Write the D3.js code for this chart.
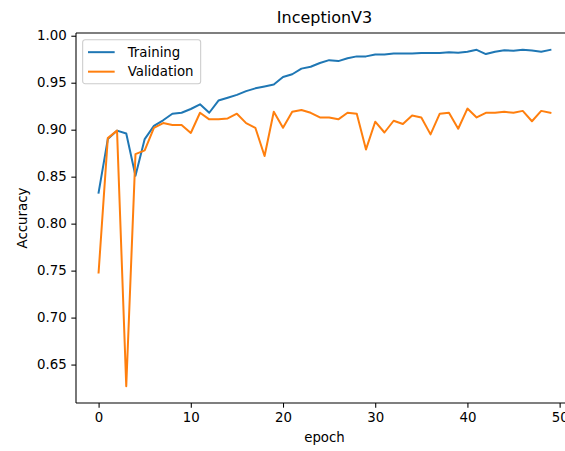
<!DOCTYPE html>
<html>
<head>
<meta charset="utf-8">
<script src="https://cdn.jsdelivr.net/npm/d3@7"></script>
<style>
  html, body { margin: 0; padding: 0; background: #fff; }
  svg { display: block; font-family: "DejaVu Sans", sans-serif; }
</style>
</head>
<body>
<svg id="chart" width="565" height="451"></svg>
<script>
// Accuracy per epoch for InceptionV3
const epochs = d3.range(0, 50);
const training = [0.833, 0.890, 0.899, 0.896, 0.851, 0.890, 0.904, 0.910, 0.917, 0.918,
  0.922, 0.927, 0.918, 0.931, 0.934, 0.937, 0.941, 0.944, 0.946, 0.948,
  0.956, 0.959, 0.965, 0.967, 0.971, 0.974, 0.973, 0.976, 0.978, 0.978,
  0.980, 0.980, 0.981, 0.981, 0.981, 0.9815, 0.9815, 0.9815, 0.9825, 0.982,
  0.983, 0.985, 0.9805, 0.983, 0.9845, 0.984, 0.985, 0.9843, 0.983, 0.985];
const validation = [0.748, 0.891, 0.899, 0.627, 0.874, 0.878, 0.902, 0.907, 0.905, 0.905,
  0.8965, 0.918, 0.911, 0.911, 0.912, 0.917, 0.907, 0.902, 0.872, 0.919,
  0.902, 0.919, 0.921, 0.918, 0.913, 0.913, 0.911, 0.918, 0.917, 0.879,
  0.9085, 0.897, 0.9095, 0.906, 0.915, 0.913, 0.895, 0.917, 0.918, 0.901,
  0.9225, 0.913, 0.918, 0.918, 0.919, 0.918, 0.920, 0.909, 0.920, 0.918];
const xTicks = [0, 10, 20, 30, 40, 50];
const yTicks = [0.65, 0.70, 0.75, 0.80, 0.85, 0.90, 0.95, 1.00];
const seriesNames = ["Training", "Validation"];
const seriesColors = ["#1f77b4", "#ff7f0e"];

const svg = d3.select("#chart");
const plot = { left: 76, right: 573, top: 33, bottom: 403 };

// axis limits with 5% padding around the data
const xMin = d3.min(epochs), xMax = d3.max(epochs);
const xPad = (xMax - xMin) * 0.05;
const allY = training.concat(validation);
const yMin = d3.min(allY), yMax = d3.max(allY);
const yPad = (yMax - yMin) * 0.05;

const x = d3.scaleLinear().domain([xMin - xPad, xMax + xPad]).range([plot.left, plot.right]);
const y = d3.scaleLinear().domain([yMin - yPad, yMax + yPad]).range([plot.bottom, plot.top]);

const fontSize = 13.33;

// lines
const line = d3.line().x((d, i) => x(epochs[i])).y(d => y(d));
[training, validation].forEach((vals, k) => {
  svg.append("path")
    .datum(vals)
    .attr("d", line)
    .attr("fill", "none")
    .attr("stroke", seriesColors[k])
    .attr("stroke-width", 2)
    .attr("stroke-linejoin", "round")
    .attr("stroke-linecap", "square");
});

// axes
const xAxis = d3.axisBottom(x).tickValues(xTicks).tickFormat(d3.format("d"))
  .tickSizeInner(4.67).tickSizeOuter(0).tickPadding(4.67);
const yAxis = d3.axisLeft(y).tickValues(yTicks).tickFormat(d3.format(".2f"))
  .tickSizeInner(4.67).tickSizeOuter(0).tickPadding(4.67);

const gx = svg.append("g").attr("transform", `translate(0,${plot.bottom})`).call(xAxis);
const gy = svg.append("g").attr("transform", `translate(${plot.left},0)`).call(yAxis);
[gx, gy].forEach(g => {
  g.select(".domain").remove();
  g.selectAll(".tick line").attr("stroke", "#000").attr("stroke-width", 1.07);
  g.selectAll(".tick text").attr("fill", "#000")
    .style("font-size", fontSize + "px").style("font-family", "DejaVu Sans");
});

// spines
const spine = svg.append("g").attr("stroke", "#000").attr("stroke-width", 1.07).attr("fill", "none");
spine.append("line").attr("x1", plot.left).attr("x2", plot.right).attr("y1", plot.bottom).attr("y2", plot.bottom);
spine.append("line").attr("x1", plot.left).attr("x2", plot.right).attr("y1", plot.top).attr("y2", plot.top);
spine.append("line").attr("x1", plot.left).attr("x2", plot.left).attr("y1", plot.top).attr("y2", plot.bottom);
spine.append("line").attr("x1", plot.right).attr("x2", plot.right).attr("y1", plot.top).attr("y2", plot.bottom);

// title and axis labels
const cx = (plot.left + plot.right) / 2;
svg.append("text").attr("x", cx).attr("y", 23).attr("text-anchor", "middle")
  .style("font-size", "16px").text("InceptionV3");
svg.append("text").attr("x", cx).attr("y", 442).attr("text-anchor", "middle")
  .style("font-size", fontSize + "px").text("epoch");
svg.append("text").attr("transform", `translate(27,${(plot.top + plot.bottom) / 2}) rotate(-90)`)
  .attr("text-anchor", "middle").style("font-size", fontSize + "px").text("Accuracy");

// legend
const lg = svg.append("g").attr("transform", `translate(${plot.left + 6.67},${plot.top + 6.67})`);
lg.append("rect").attr("x", 0).attr("y", 0).attr("width", 118).attr("height", 44)
  .attr("rx", 2.5).attr("fill", "#fff").attr("fill-opacity", 0.8)
  .attr("stroke", "#ccc").attr("stroke-width", 1.07);
seriesNames.forEach((name, i) => {
  const ly = 12.5 + i * 19.5;
  lg.append("line").attr("x1", 5.3).attr("x2", 32).attr("y1", ly).attr("y2", ly)
    .attr("stroke", seriesColors[i]).attr("stroke-width", 2);
  lg.append("text").attr("x", 45).attr("y", ly).attr("dy", "0.35em")
    .style("font-size", fontSize + "px").text(name);
});
</script>
</body>
</html>
